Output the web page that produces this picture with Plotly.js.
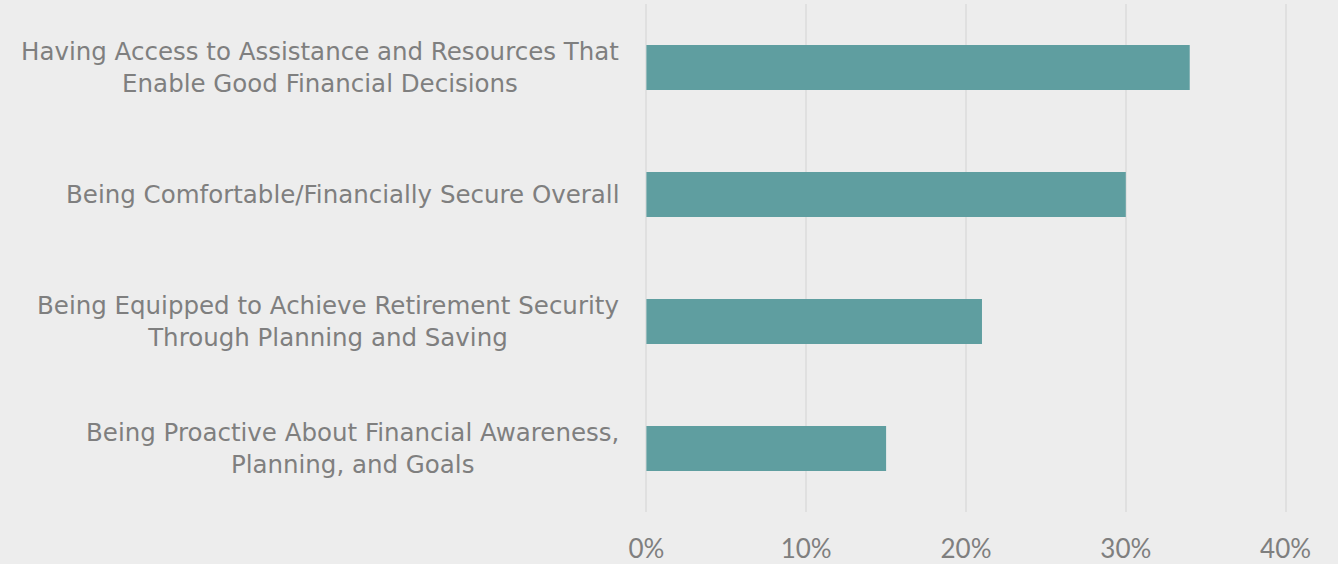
<!DOCTYPE html>
<html>
<head>
<meta charset="utf-8">
<script src="https://cdn.plot.ly/plotly-3.0.1.min.js"></script>
<style>html,body{margin:0;padding:0;background:#ededed;}#chart{width:1338px;height:564px;}</style>
</head>
<body>
<div id="chart"></div>
<script>
const categories = [
  "Having Access to Assistance and Resources That<br>Enable Good Financial Decisions",
  "Being Comfortable/Financially Secure Overall",
  "Being Equipped to Achieve Retirement Security<br>Through Planning and Saving",
  "Being Proactive About Financial Awareness,<br>Planning, and Goals"
];
const values = [0.34, 0.30, 0.21, 0.15];
const tickVals = [0, 0.1, 0.2, 0.3, 0.4];
const tickText = ["0%", "10%", "20%", "30%", "40%"];

const LABEL_FONT = "'DejaVu Sans', sans-serif";
const TICK_FONT = "Lato, 'Open Sans', sans-serif";
const GREY = "#7f7f7f";

const trace = {
  type: "bar",
  orientation: "h",
  x: values,
  y: categories,
  width: 0.355,
  marker: {color: "#5f9ea0"},
  hoverinfo: "x+y"
};

const annotations = categories.map(c => ({
  xref: "x", yref: "y", x: 0, y: c,
  text: c, showarrow: false, xanchor: "right", yanchor: "middle",
  xshift: -25, align: "center",
  font: {family: LABEL_FONT, size: 24.5, color: GREY}
}));

const layout = {
  width: 1338, height: 564,
  paper_bgcolor: "#ededed", plot_bgcolor: "#ededed",
  margin: {l: 644, r: 50, t: 4, b: 52},
  showlegend: false,
  xaxis: {
    range: [-0.0015, 0.4015], tickvals: tickVals, ticktext: tickText,
    showgrid: true, gridcolor: "#e0e0e0", gridwidth: 2, zeroline: false,
    showline: false, ticks: "outside", ticklen: 14, tickcolor: "rgba(0,0,0,0)",
    tickfont: {family: TICK_FONT, size: 26, color: GREY}, fixedrange: true
  },
  yaxis: {
    autorange: "reversed", showticklabels: false, showgrid: false,
    zeroline: false, showline: false, fixedrange: true
  },
  annotations: annotations
};

Plotly.newPlot("chart", [trace], layout, {displayModeBar: false, staticPlot: true});
</script>
</body>
</html>
